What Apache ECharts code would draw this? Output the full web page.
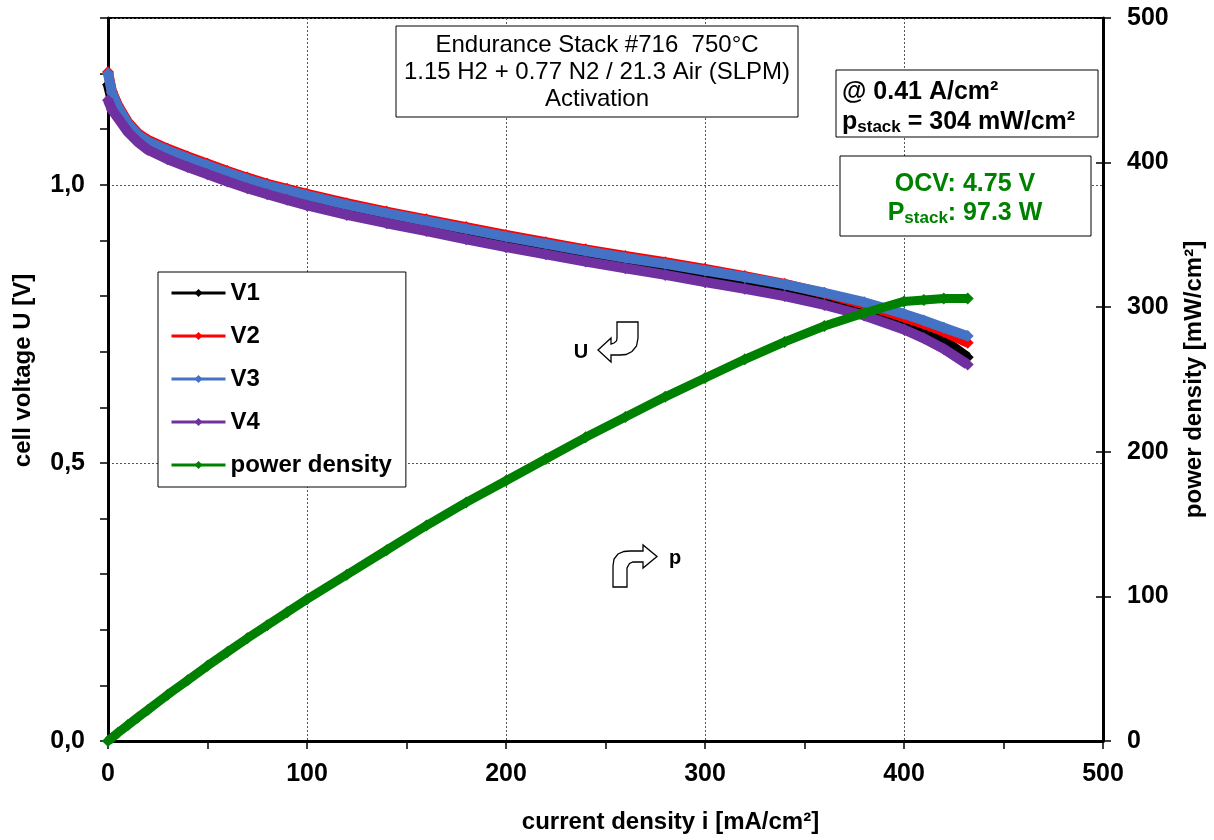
<!DOCTYPE html>
<html>
<head>
<meta charset="utf-8">
<script src="https://cdn.jsdelivr.net/npm/echarts@6/dist/echarts.min.js"></script>
<style>
html,body{margin:0;padding:0;background:#fff;}
#chart{width:1214px;height:840px;}
</style>
</head>
<body>
<div id="chart"></div>
<script>
// ---- data ----
const currentDensity = [0, 2, 5, 10, 15, 20, 30, 40, 50, 60, 70, 80, 90, 100, 120, 140, 160, 180, 200, 220, 240, 260, 280, 300, 320, 340, 360, 380, 400, 410, 420, 432];
const V1 = [1.180, 1.150, 1.130, 1.103, 1.084, 1.071, 1.055, 1.041, 1.028, 1.015, 1.003, 0.992, 0.982, 0.972, 0.955, 0.940, 0.926, 0.912, 0.898, 0.885, 0.872, 0.860, 0.848, 0.836, 0.824, 0.810, 0.792, 0.772, 0.750, 0.737, 0.721, 0.690];
const V2 = [1.203, 1.168, 1.143, 1.113, 1.093, 1.081, 1.065, 1.051, 1.038, 1.025, 1.013, 1.002, 0.993, 0.984, 0.967, 0.952, 0.938, 0.924, 0.910, 0.897, 0.884, 0.872, 0.861, 0.849, 0.836, 0.822, 0.805, 0.785, 0.762, 0.750, 0.736, 0.716];
const V3 = [1.200, 1.165, 1.140, 1.110, 1.090, 1.078, 1.062, 1.048, 1.035, 1.022, 1.010, 0.999, 0.990, 0.981, 0.964, 0.949, 0.935, 0.921, 0.907, 0.894, 0.881, 0.869, 0.858, 0.846, 0.834, 0.821, 0.806, 0.789, 0.768, 0.756, 0.743, 0.728];
const V4 = [1.152, 1.135, 1.120, 1.095, 1.077, 1.063, 1.046, 1.032, 1.019, 1.006, 0.994, 0.983, 0.973, 0.963, 0.946, 0.931, 0.917, 0.902, 0.888, 0.875, 0.862, 0.850, 0.838, 0.825, 0.813, 0.800, 0.784, 0.765, 0.740, 0.724, 0.705, 0.677];
const powerDensity = [0, 2.3, 5.7, 11, 16.3, 21.5, 32, 42, 52, 61.5, 71, 80, 89, 98, 115, 132, 149, 165, 180, 195, 210, 224, 238, 251, 264, 276, 287, 296, 304, 305, 306, 306];
const seriesNames = ['V1', 'V2', 'V3', 'V4', 'power density'];
const seriesColors = ['#000000', '#ff0000', '#4472c4', '#7030a0', '#008000'];

const FONT = '"Liberation Sans", Arial, sans-serif';
const pairs = arr => currentDensity.map((x, k) => [x, arr[k]]);
const voltageSets = [V1, V2, V3, V4];

const series = voltageSets.map((arr, k) => ({
  name: seriesNames[k], type: 'line', xAxisIndex: 0, yAxisIndex: 0,
  data: pairs(arr), symbol: 'diamond', symbolSize: 12, showSymbol: true,
  lineStyle: {width: 10, color: seriesColors[k]}, itemStyle: {color: seriesColors[k]},
  emphasis: {disabled: true}, z: 3 + k
}));
series.push({
  name: seriesNames[4], type: 'line', xAxisIndex: 0, yAxisIndex: 1,
  data: pairs(powerDensity), symbol: 'diamond', symbolSize: 12, showSymbol: true,
  lineStyle: {width: 9, color: seriesColors[4]}, itemStyle: {color: seriesColors[4]},
  emphasis: {disabled: true}, z: 8
});

const boldLabel = {color: '#000', fontWeight: 'bold', fontSize: 25, fontFamily: FONT};
const blackLine = {color: '#000', width: 3};
const tickStyle = {color: '#000', width: 1.5};
const gridDash = {color: '#555', width: 1, type: [2, 2]};

function txt(x, y, text, font, fill, align, extra) {
  return Object.assign({
    type: 'text', x: x, y: y, z: 102, silent: true,
    style: {text: text, font: font, fill: fill, textAlign: align, align: align,
            textVerticalAlign: 'middle', verticalAlign: 'middle'}
  }, extra || {});
}
function box(x, y, w, h) {
  return {type: 'rect', z: 100, silent: true, shape: {x: x, y: y, width: w, height: h},
          style: {fill: '#fff', stroke: '#000', lineWidth: 1}};
}
const arrowStyle = {fill: '#fff', stroke: '#000', lineWidth: 1.3};

const option = {
  animation: false,
  backgroundColor: '#fff',
  textStyle: {fontFamily: FONT},
  grid: {left: 108, right: 108, top: 18, bottom: 99, show: true, borderColor: '#000', borderWidth: 2, backgroundColor: 'transparent'},
  xAxis: [{
    type: 'value', min: 0, max: 500, interval: 100, position: 'bottom',
    axisLine: {show: true, lineStyle: blackLine},
    axisTick: {show: true, length: 8, lineStyle: tickStyle},
    minorTick: {show: true, splitNumber: 2, length: 8, lineStyle: tickStyle},
    axisLabel: Object.assign({margin: 21}, boldLabel),
    splitLine: {show: true, lineStyle: gridDash},
    name: 'current density i [mA/cm²]', nameLocation: 'middle', nameGap: 69,
    nameTextStyle: {color: '#000', fontWeight: 'bold', fontSize: 24, fontFamily: FONT, padding: [0, 0, 0, 130]}
  }],
  yAxis: [{
    type: 'value', min: 0, max: 1.3, interval: 0.5, position: 'left',
    axisLine: {show: true, lineStyle: blackLine},
    axisTick: {show: false},
    axisLabel: Object.assign({margin: 23, showMaxLabel: false,
      formatter: v => v.toFixed(1).replace('.', ',')}, boldLabel),
    splitLine: {show: true, lineStyle: gridDash},
    name: 'cell voltage U [V]', nameLocation: 'middle', nameGap: 73,
    nameTextStyle: {color: '#000', fontWeight: 'bold', fontSize: 24, fontFamily: FONT, padding: [0, 0, 0, 18]}
  }, {
    type: 'value', min: 0, max: 500, interval: 100, position: 'right',
    axisLine: {show: true, lineStyle: blackLine},
    axisTick: {show: true, length: 8, lineStyle: tickStyle},
    axisLabel: Object.assign({margin: 24}, boldLabel),
    splitLine: {show: false},
    name: 'power density [mW/cm²]', nameLocation: 'middle', nameGap: 79,
    nameTextStyle: {color: '#000', fontWeight: 'bold', fontSize: 24, fontFamily: FONT}
  }, {
    type: 'value', min: 0, max: 1.3, interval: 0.1, position: 'left',
    axisLine: {show: false}, axisLabel: {show: false}, splitLine: {show: false},
    axisTick: {show: true, length: 8, lineStyle: tickStyle}
  }, {
    type: 'value', min: 0, max: 500, interval: 100, position: 'right',
    axisLine: {show: false}, axisLabel: {show: false}, splitLine: {show: false},
    axisTick: {show: true, inside: true, length: 7, lineStyle: tickStyle}
  }],
  legend: {
    data: seriesNames, orient: 'vertical', left: 158, top: 272,
    padding: [9, 14, 10, 12], itemGap: 19, itemWidth: 54, itemHeight: 10,
    borderColor: '#000', borderWidth: 1, backgroundColor: '#fff', borderRadius: 0,
    lineStyle: {width: 3},
    textStyle: {color: '#000', fontWeight: 'bold', fontSize: 24, lineHeight: 24, fontFamily: FONT},
    selectedMode: false, z: 50
  },
  series: series,
  graphic: [
    box(396, 26, 402, 91),
    txt(597, 45, 'Endurance Stack #716  750°C', '24px ' + FONT, '#000', 'center'),
    txt(597, 72, '1.15 H2 + 0.77 N2 / 21.3 Air (SLPM)', '24px ' + FONT, '#000', 'center'),
    txt(597, 99, 'Activation', '24px ' + FONT, '#000', 'center'),
    box(836, 70, 262, 67),
    txt(842, 92, '@ 0.41 A/cm²', 'bold 25px ' + FONT, '#000', 'left'),
    {
      type: 'text', x: 842, y: 122, z: 102, silent: true,
      style: {
        text: '{b|p}{s|stack}{b| = 304 mW/cm²}', textAlign: 'left', align: 'left',
        textVerticalAlign: 'middle', verticalAlign: 'middle', fill: '#000',
        rich: {
          b: {font: 'bold 25px ' + FONT, fill: '#000', lineHeight: 28, verticalAlign: 'middle'},
          s: {font: 'bold 17px ' + FONT, fill: '#000', lineHeight: 18, verticalAlign: 'bottom'}
        }
      }
    },
    box(840, 156, 251, 80),
    txt(965, 184, 'OCV: 4.75 V', 'bold 25px ' + FONT, '#008000', 'center'),
    {
      type: 'text', x: 965, y: 213, z: 102, silent: true,
      style: {
        text: '{b|P}{s|stack}{b|: 97.3 W}', textAlign: 'center', align: 'center',
        textVerticalAlign: 'middle', verticalAlign: 'middle', fill: '#008000',
        rich: {
          b: {font: 'bold 25px ' + FONT, fill: '#008000', lineHeight: 28, verticalAlign: 'middle'},
          s: {font: 'bold 17px ' + FONT, fill: '#008000', lineHeight: 18, verticalAlign: 'bottom'}
        }
      }
    },
    {type: 'polygon', z: 100, silent: true, style: arrowStyle, shape: {points: [
      [617,322],[638,322],[638,338],[636.5,346],[632,351.5],[626,354.5],[620,355],[611,355],
      [611,362],[598,350],[611,338],[611,344],[614,343],[616.5,341],[617,338]]}},
    txt(581, 352, 'U', 'bold 20px ' + FONT, '#000', 'center'),
    {type: 'polygon', z: 100, silent: true, style: arrowStyle, shape: {points: [
      [613,587],[613,566],[614,559],[618,554],[624,551.5],[630,551],[643,551],[643,545],
      [657,556.5],[643,568],[643,562],[633,562],[629.5,563.5],[627,568],[627,587]]}},
    txt(675, 558, 'p', 'bold 20px ' + FONT, '#000', 'center')
  ]
};

const chart = echarts.init(document.getElementById('chart'), null, {renderer: 'canvas'});
chart.setOption(option);
</script>
</body>
</html>
